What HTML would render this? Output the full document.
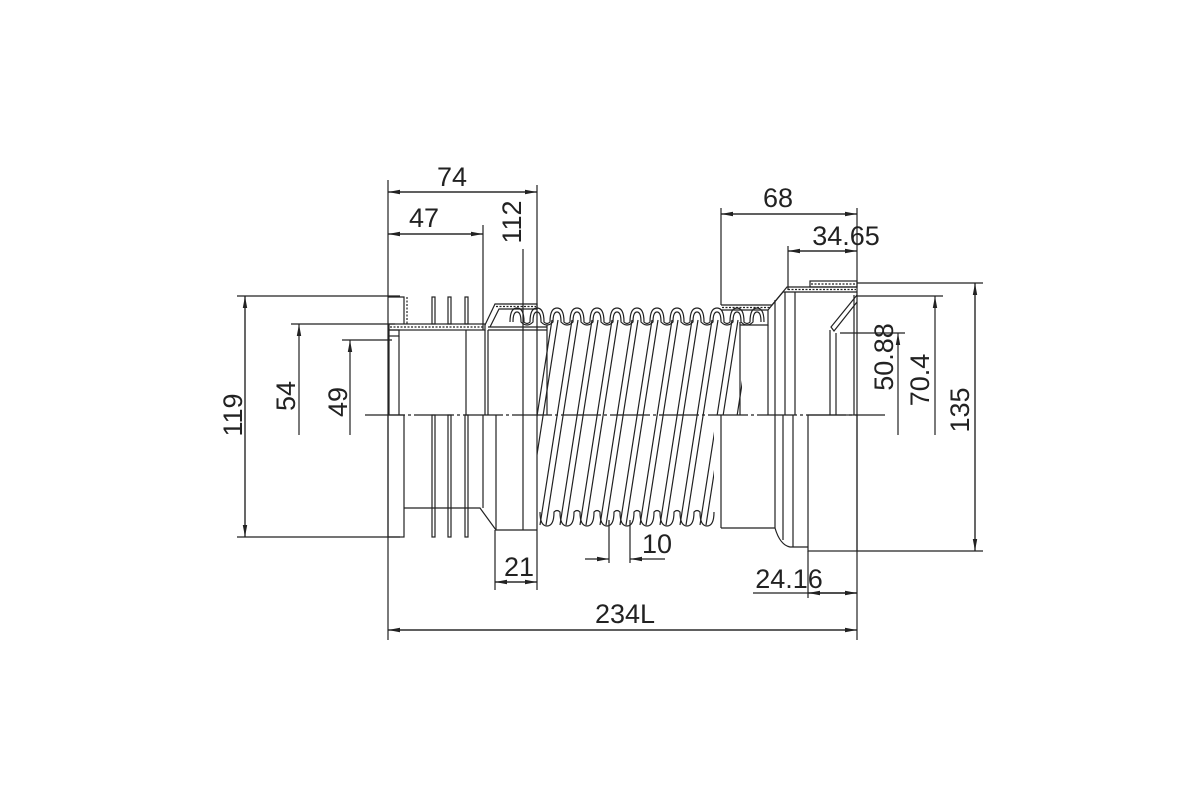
<!DOCTYPE html>
<html><head><meta charset="utf-8"><style>
html,body{margin:0;padding:0;background:#fff}
svg{display:block}
text{font-family:"Liberation Sans",sans-serif;font-size:27px;fill:#222}
</style></head><body>
<svg width="1200" height="800" viewBox="0 0 1200 800" xmlns="http://www.w3.org/2000/svg">
<defs>
<marker id="a" markerWidth="12" markerHeight="6" refX="12" refY="3" orient="auto" markerUnits="userSpaceOnUse"><path d="M0,0.8 L12,3 L0,5.2 Z" fill="#222"/></marker>
<clipPath id="cc"><path d="M537,300 L742,300 L742,415 L714,415 L714,535 L537,535 Z"/></clipPath>
</defs>
<g stroke="#222" stroke-width="1.2" fill="none">
<line x1="365" y1="415" x2="885" y2="415" stroke-dasharray="40,3,3,3"/>

<line x1="388" y1="192" x2="537" y2="192" marker-end="url(#a)"/>
<line x1="537" y1="192" x2="388" y2="192" marker-end="url(#a)"/>
<line x1="388" y1="234" x2="483" y2="234" marker-end="url(#a)"/>
<line x1="483" y1="234" x2="388" y2="234" marker-end="url(#a)"/>
<line x1="388" y1="180" x2="388" y2="640"/>
<line x1="537" y1="185" x2="537" y2="590"/>
<line x1="483" y1="225" x2="483" y2="330"/>
<line x1="523" y1="249" x2="523" y2="415"/>
<line x1="721" y1="214" x2="857" y2="214" marker-end="url(#a)"/>
<line x1="857" y1="214" x2="721" y2="214" marker-end="url(#a)"/>
<line x1="721" y1="208" x2="721" y2="305"/>
<line x1="788" y1="251" x2="857" y2="251" marker-end="url(#a)"/>
<line x1="857" y1="251" x2="788" y2="251" marker-end="url(#a)"/>
<line x1="788" y1="246" x2="788" y2="290"/>
<line x1="857" y1="208" x2="857" y2="640"/>

<line x1="237" y1="296" x2="400" y2="296"/>
<line x1="237" y1="537" x2="400" y2="537"/>
<line x1="245" y1="296" x2="245" y2="537" marker-end="url(#a)"/>
<line x1="245" y1="537" x2="245" y2="296" marker-end="url(#a)"/>
<line x1="291" y1="324" x2="395" y2="324"/>
<line x1="299" y1="435" x2="299" y2="324" marker-end="url(#a)"/>
<line x1="342" y1="340" x2="392" y2="340"/>
<line x1="350" y1="435" x2="350" y2="340" marker-end="url(#a)"/>

<line x1="840" y1="333" x2="905" y2="333"/>
<line x1="898" y1="435" x2="898" y2="333" marker-end="url(#a)"/>
<line x1="857" y1="296" x2="943" y2="296"/>
<line x1="935" y1="435" x2="935" y2="296" marker-end="url(#a)"/>
<line x1="857" y1="283" x2="983" y2="283"/>
<line x1="857" y1="551" x2="983" y2="551"/>
<line x1="975" y1="283" x2="975" y2="551" marker-end="url(#a)"/>
<line x1="975" y1="551" x2="975" y2="283" marker-end="url(#a)"/>

<line x1="495" y1="530" x2="495" y2="590"/>
<line x1="495" y1="582" x2="537" y2="582" marker-end="url(#a)"/>
<line x1="537" y1="582" x2="495" y2="582" marker-end="url(#a)"/>
<line x1="609" y1="520" x2="609" y2="563"/>
<line x1="630" y1="520" x2="630" y2="563"/>
<line x1="585" y1="559" x2="609" y2="559" marker-end="url(#a)"/>
<line x1="665" y1="559" x2="630" y2="559" marker-end="url(#a)"/>
<line x1="808" y1="551" x2="808" y2="598"/>
<line x1="753" y1="593" x2="857" y2="593"/>
<line x1="808" y1="593" x2="857" y2="593" marker-end="url(#a)"/>
<line x1="857" y1="593" x2="808" y2="593" marker-end="url(#a)"/>
<line x1="388" y1="630" x2="857" y2="630" marker-end="url(#a)"/>
<line x1="857" y1="630" x2="388" y2="630" marker-end="url(#a)"/>

<path d="M388,297 L404,297 L404,324"/>
<path d="M407,297 L407,324" stroke-dasharray="2,1.5"/>
<rect x="389" y="324" width="96" height="6"/>
<line x1="390" y1="327" x2="485" y2="327" stroke-dasharray="2,1.5"/>
<rect x="389" y="330" width="10" height="6"/>
<line x1="399" y1="336" x2="399" y2="415"/>
<line x1="389" y1="336" x2="389" y2="415"/>
<rect x="432" y="297" width="3" height="27"/><rect x="448" y="297" width="3" height="27"/><rect x="465" y="297" width="3" height="27"/>
<line x1="466" y1="330" x2="466" y2="415"/>
<line x1="485" y1="330" x2="485" y2="415"/>
<line x1="488" y1="330" x2="488" y2="415"/>
<path d="M485,325 L495,304 L537,304 L537,309 L499,309 L490,327"/>
<line x1="496" y1="306.5" x2="536" y2="306.5" stroke-dasharray="2,1.5"/>
<path d="M488,327 L547,327"/><path d="M488,330 L547,330"/>
<line x1="547" y1="325" x2="547" y2="415"/>

<rect x="388" y="415" width="16" height="122"/>
<path d="M404,508 L480,508 L496,530 L537,530"/>
<rect x="432" y="415" width="3" height="122"/><rect x="448" y="415" width="3" height="122"/><rect x="465" y="415" width="3" height="122"/>
<line x1="483" y1="415" x2="483" y2="508"/>
<line x1="496" y1="415" x2="496" y2="530"/>
<line x1="523" y1="415" x2="523" y2="530"/>

<path d="M510,322 q0,-14 7,-14 q7,0 7,14 q3,3 6,0 q0,-14 7,-14 q7,0 7,14 q3,3 6,0 q0,-14 7,-14 q7,0 7,14 q3,3 6,0 q0,-14 7,-14 q7,0 7,14 q3,3 6,0 q0,-14 7,-14 q7,0 7,14 q3,3 6,0 q0,-14 7,-14 q7,0 7,14 q3,3 6,0 q0,-14 7,-14 q7,0 7,14 q3,3 6,0 q0,-14 7,-14 q7,0 7,14 q3,3 6,0 q0,-14 7,-14 q7,0 7,14 q3,3 6,0 q0,-14 7,-14 q7,0 7,14 q3,3 6,0 q0,-14 7,-14 q7,0 7,14 q3,3 6,0 q0,-14 7,-14 q7,0 7,14 q3,3 6,0 q0,-14 7,-14 q7,0 7,14"/>
<path d="M513,322 q0,-10 4,-10 q4,0 4,10 q6,6 12,0 q0,-10 4,-10 q4,0 4,10 q6,6 12,0 q0,-10 4,-10 q4,0 4,10 q6,6 12,0 q0,-10 4,-10 q4,0 4,10 q6,6 12,0 q0,-10 4,-10 q4,0 4,10 q6,6 12,0 q0,-10 4,-10 q4,0 4,10 q6,6 12,0 q0,-10 4,-10 q4,0 4,10 q6,6 12,0 q0,-10 4,-10 q4,0 4,10 q6,6 12,0 q0,-10 4,-10 q4,0 4,10 q6,6 12,0 q0,-10 4,-10 q4,0 4,10 q6,6 12,0 q0,-10 4,-10 q4,0 4,10 q6,6 12,0 q0,-10 4,-10 q4,0 4,10 q6,6 12,0 q0,-10 4,-10 q4,0 4,10"/>
<path d="M540,512 q0,14 7,14 q7,0 7,-14 q3,-3 6,0 q0,14 7,14 q7,0 7,-14 q3,-3 6,0 q0,14 7,14 q7,0 7,-14 q3,-3 6,0 q0,14 7,14 q7,0 7,-14 q3,-3 6,0 q0,14 7,14 q7,0 7,-14 q3,-3 6,0 q0,14 7,14 q7,0 7,-14 q3,-3 6,0 q0,14 7,14 q7,0 7,-14 q3,-3 6,0 q0,14 7,14 q7,0 7,-14 q3,-3 6,0 q0,14 7,14 q7,0 7,-14"/>
<g clip-path="url(#cc)">
<path d="M520,525 L552,320 M526,525 L558,320 M540,525 L572,320 M546,525 L578,320 M560,525 L592,320 M566,525 L598,320 M580,525 L612,320 M586,525 L618,320 M600,525 L632,320 M606,525 L638,320 M620,525 L652,320 M626,525 L658,320 M640,525 L672,320 M646,525 L678,320 M660,525 L692,320 M666,525 L698,320 M680,525 L712,320 M686,525 L718,320 M700,525 L732,320 M706,525 L738,320 M720,525 L752,320 M726,525 L758,320"/>
</g>

<path d="M721,305 L772,305 L787,287 L857,287"/>
<path d="M721,310 L768,310 L768,325 L740,325"/>
<path d="M768,310 L783,292 L857,292"/>
<line x1="722" y1="307.5" x2="771" y2="307.5" stroke-dasharray="2,1.5"/>
<line x1="788" y1="289.5" x2="856" y2="289.5" stroke-dasharray="2,1.5"/>
<rect x="810" y="281" width="47" height="6"/>
<line x1="811" y1="284" x2="856" y2="284" stroke-dasharray="2,1.5"/>
<path d="M857,295 L831,327 L834,331 L857,302"/>
<line x1="740" y1="322" x2="740" y2="415"/>
<line x1="768" y1="325" x2="768" y2="415"/>
<line x1="775" y1="300" x2="775" y2="415"/>
<line x1="785" y1="292" x2="785" y2="415"/>
<line x1="795" y1="292" x2="795" y2="415"/>
<line x1="830" y1="330" x2="830" y2="415"/>
<line x1="836" y1="333" x2="836" y2="415"/>
<line x1="854" y1="295" x2="854" y2="415"/>

<line x1="721" y1="415" x2="721" y2="528"/>
<path d="M721,528 L775,528 Q780,545 790,547 L808,547"/>
<line x1="775" y1="415" x2="775" y2="528"/>
<line x1="783" y1="415" x2="783" y2="540"/>
<line x1="793" y1="415" x2="793" y2="547"/>
<rect x="808" y="415" width="49" height="136"/>
</g>

<text x="452" y="186" text-anchor="middle">74</text>
<text x="424" y="227" text-anchor="middle">47</text>
<text transform="translate(521,222) rotate(-90)" text-anchor="middle">112</text>
<text x="778" y="207" text-anchor="middle">68</text>
<text x="846" y="245" text-anchor="middle">34.65</text>
<text transform="translate(242,415) rotate(-90)" text-anchor="middle">119</text>
<text transform="translate(295,396) rotate(-90)" text-anchor="middle">54</text>
<text transform="translate(347,402) rotate(-90)" text-anchor="middle">49</text>
<text transform="translate(893,357) rotate(-90)" text-anchor="middle">50.88</text>
<text transform="translate(929,380) rotate(-90)" text-anchor="middle">70.4</text>
<text transform="translate(969,410) rotate(-90)" text-anchor="middle">135</text>
<text x="519" y="576" text-anchor="middle">21</text>
<text x="657" y="553" text-anchor="middle">10</text>
<text x="789" y="588" text-anchor="middle">24.16</text>
<text x="625" y="623" text-anchor="middle">234L</text>
</svg>
</body></html>
